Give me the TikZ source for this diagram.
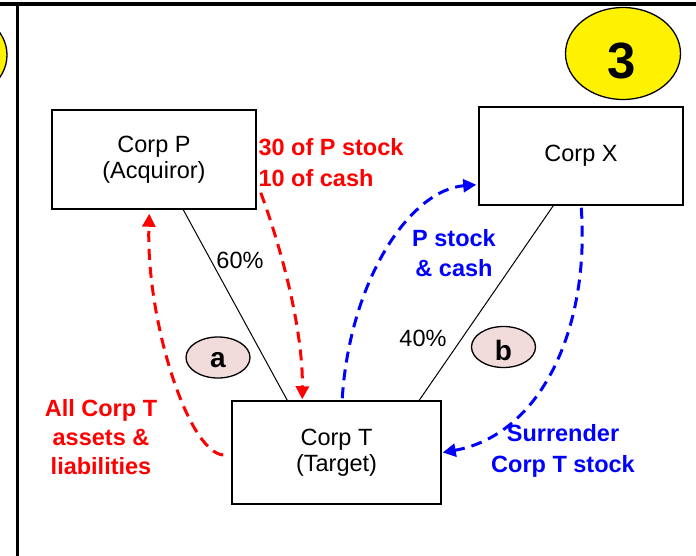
\documentclass[tikz,border=0pt]{standalone}
\usepackage{fontspec}
\setmainfont{Liberation Sans}
\usetikzlibrary{arrows.meta,calc,shapes.geometric}
\definecolor{pinkfill}{HTML}{F2DCDB}
\begin{document}
\begin{tikzpicture}[x=1pt,y=-1pt,
  box/.style={draw, line width=1.5pt, align=center, inner sep=0pt,
    font=\fontsize{23.5}{26.5}\selectfont},
  tag/.style={draw, line width=1.3pt, fill=pinkfill, ellipse, minimum width=64pt, minimum height=41pt, inner sep=0pt},
  tagtext/.style={font=\fontsize{28}{30}\selectfont\bfseries},
  plain/.style={font=\fontsize{23.5}{26}\selectfont},
  redlab/.style={text=red, font=\fontsize{23.5}{30}\selectfont\bfseries, align=center},
  bluelab/.style={text=blue, font=\fontsize{23.5}{30}\selectfont\bfseries, align=center},
  redarrow/.style={draw=red, line width=3pt, dash pattern=on 11pt off 7pt, -{Triangle[length=13pt,width=13pt]}},
  bluearrow/.style={draw=blue, line width=3pt, dash pattern=on 11pt off 7pt, -{Triangle[length=13pt,width=13pt]}},
  link/.style={draw=black, line width=1pt},
  frame/.style={line width=3.5pt}]
\useasboundingbox (0,0) rectangle (696,556);
\begin{scope}
\clip (0,0) rectangle (696,556);
\draw[line width=1.3pt, fill=yellow] (-50,55) ellipse [x radius=57, y radius=46];
\end{scope}
\draw[frame] (0,4) -- (696,4);
\draw[frame] (17.5,4) -- (17.5,556);
% number badge
\node[draw, line width=1.3pt, fill=yellow, ellipse, minimum width=115pt, minimum height=92pt, inner sep=0pt] (badge) at (623,53.5) {};
\node[font=\fontsize{51}{51}\selectfont\bfseries] (three) at (622,61) {3};
% boxes
\node[box, minimum width=204pt, minimum height=99pt] (P) at (154,159.5) {Corp P\\(Acquiror)};
\node[box, minimum width=204pt, minimum height=98pt] (X) at (581,156) {Corp X};
\node[box, minimum width=209pt, minimum height=103pt] (T) at (336.5,452.5) {Corp T\\(Target)};
% ownership lines
\coordinate (p1) at ($(P.south west)+(132,0)$);
\coordinate (t1) at ($(T.north west)+(56,0)$);
\coordinate (x1) at ($(X.south west)+(75,0)$);
\coordinate (t2) at ($(T.north west)+(188,0)$);
\draw[link] (p1) -- (t1);
\draw[link] (x1) -- (t2);
\node[plain] (sixty) at (240,260) {60\%};
\node[plain] (forty) at (423,338) {40\%};
% step tags
\node[tag] (a) at (218,357.5) {};
\node[tagtext] (atext) at (218,360) {a};
\node[tag] (b) at (503.5,347) {};
\node[tagtext] (btext) at (503.5,350) {b};
% red arrows
\coordinate (r1s) at ($(T.west)+(-8,2.5)$);
\coordinate (r1e) at ($(P.south west)+(98,4)$);
\draw[redarrow] (r1s) .. controls (188,452) and (146,320) .. (r1e);
\coordinate (r2s) at ($(P.south east)+(4,-17)$);
\coordinate (r2e) at ($(T.north west)+(71,-1)$);
\draw[redarrow] (r2s) .. controls (282,250) and (303,330) .. (r2e);
% blue arrows
\coordinate (b1s) at ($(T.north west)+(111,-2)$);
\coordinate (b1e) at ($(X.south west)+(-2,-21)$);
\draw[bluearrow] (b1s) .. controls (350,280) and (410,190) .. (b1e);
\coordinate (b2s) at ($(X.south west)+(103,2)$);
\coordinate (b2e) at ($(T.east)+(1,0)$);
\draw[bluearrow] (b2s) .. controls (590,330) and (540,435) .. (b2e);
% labels
\node[redlab, align=left, anchor=west, font=\fontsize{23.5}{31}\selectfont\bfseries] (lab30) at (255,162.5) {30 of P stock\\10 of cash};
\node[redlab, font=\fontsize{23.5}{29}\selectfont\bfseries] (laball) at (101,437) {All Corp T\\assets \&\\liabilities};
\node[bluelab] (labp) at (454,253) {P stock\\\& cash};
\node[bluelab, font=\fontsize{23.5}{31}\selectfont\bfseries] (labsur) at (563,450.5) {Surrender\\Corp T stock};
\end{tikzpicture}
\end{document}
